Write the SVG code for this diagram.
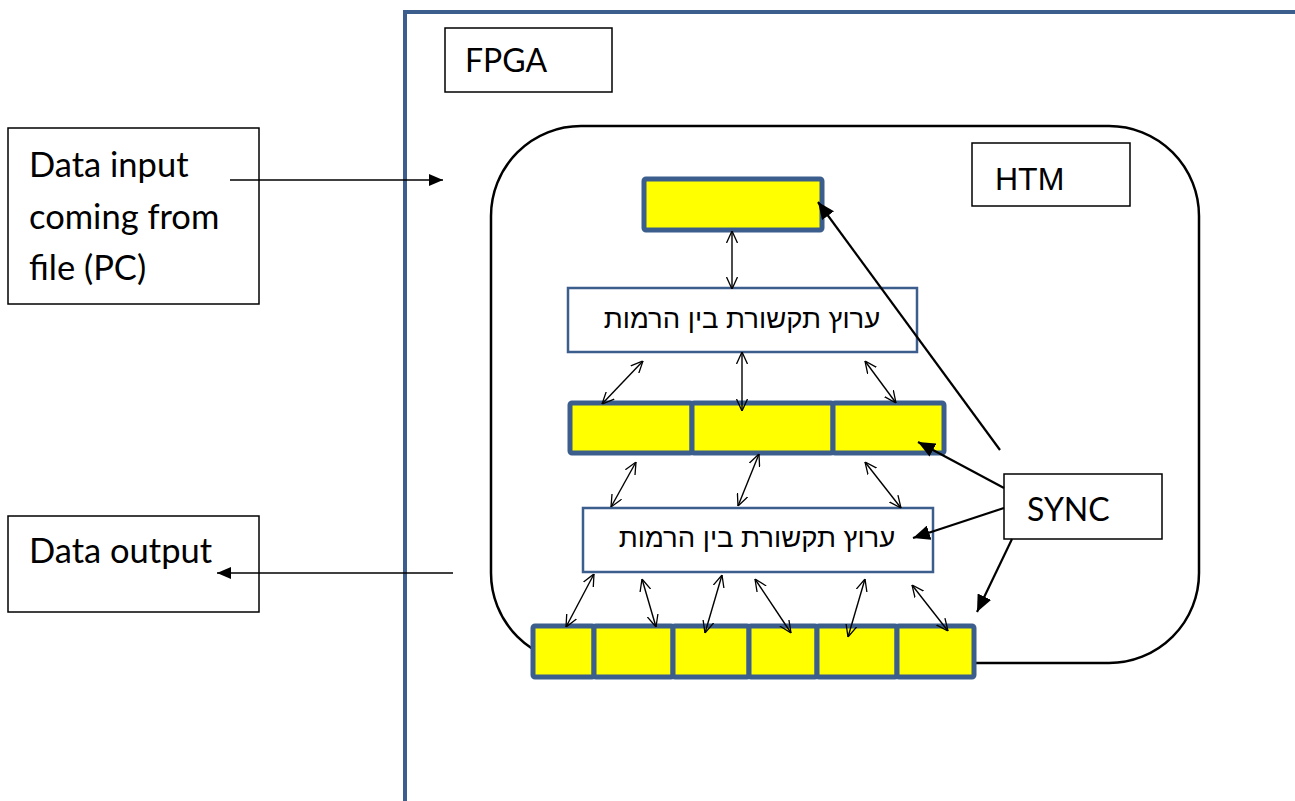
<svg xmlns="http://www.w3.org/2000/svg" width="1295" height="801" viewBox="0 0 1295 801">
<style>
.lbl{fill:none;stroke:#000;stroke-width:1.5}
.cal{font-family:Lato,"Liberation Sans",sans-serif;font-size:32px;fill:#000}
.big{font-size:34.5px}
.ari{font-family:"Liberation Sans",Arial,sans-serif;font-size:32px;fill:#000}
.heb{font-family:"Liberation Sans","DejaVu Sans",sans-serif;font-size:27.5px;fill:#000}
.yel{fill:#FFFF00;stroke:#3B5E8C;stroke-width:5}
.chan{fill:#fff;stroke:#3B5E8C;stroke-width:2.5}
.thin{fill:none;stroke:#000;stroke-width:1.4;marker-start:url(#open);marker-end:url(#open)}
.thick{fill:none;stroke:#000;stroke-width:2.2;marker-end:url(#solid)}
.io{fill:none;stroke:#000;stroke-width:1.6;marker-end:url(#solidS)}
</style>
<defs>
<marker id="open" viewBox="0 0 12 12" refX="12" refY="6" markerWidth="12" markerHeight="12" markerUnits="userSpaceOnUse" orient="auto-start-reverse">
<path d="M0,0.5 L12,6 L0,11.5" fill="none" stroke="#000" stroke-width="1.3"/>
</marker>
<marker id="solid" viewBox="0 0 16 14" refX="16" refY="7" markerWidth="17" markerHeight="15" markerUnits="userSpaceOnUse" orient="auto">
<path d="M0,0 L16,7 L0,14 Z" fill="#000"/>
</marker>
<marker id="solidS" viewBox="0 0 14 12" refX="14" refY="6" markerWidth="14" markerHeight="12" markerUnits="userSpaceOnUse" orient="auto">
<path d="M0,0 L14,6 L0,12 Z" fill="#000"/>
</marker>
</defs>

<g id="fpga-frame">
<path d="M405,801 L405,12 L1300,12" fill="none" stroke="#3B5E8C" stroke-width="4"/>
</g>

<g id="fpga-label">
<rect x="445" y="28" width="167" height="64" class="lbl"/>
<text x="465" y="72" class="cal">FPGA</text>
</g>

<g id="input">
<rect x="8" y="128" width="251" height="176" class="lbl"/>
<text x="29" y="177" class="cal big">Data input</text>
<text x="29" y="229" class="cal big">coming from</text>
<text x="29" y="280" class="cal big">file (PC)</text>
</g>

<g id="output">
<rect x="8" y="516" width="251" height="96" class="lbl"/>
<text x="29" y="563" class="cal big">Data output</text>
</g>

<g id="htm">
<rect x="491" y="126" width="708" height="537" rx="90" ry="90" fill="none" stroke="#000" stroke-width="2.5"/>
</g>

<g id="htm-label">
<rect x="972" y="143" width="158" height="63" class="lbl"/>
<text x="995" y="190" class="ari">HTM</text>
</g>

<g id="top-node">
<rect x="644" y="179" width="178" height="51" rx="2" class="yel"/>
</g>

<g id="channel-1">
<rect x="568" y="288" width="349" height="64" class="chan"/>
<text x="742" y="328" class="heb" text-anchor="middle">ערוץ תקשורת בין הרמות</text>
</g>

<g id="mid-row">
<rect x="570" y="403" width="122" height="50" rx="2" class="yel"/>
<rect x="692" y="403" width="141" height="50" rx="2" class="yel"/>
<rect x="833" y="403" width="111" height="50" rx="2" class="yel"/>
</g>

<g id="channel-2">
<rect x="583" y="508" width="350" height="64" class="chan"/>
<text x="757" y="547" class="heb" text-anchor="middle">ערוץ תקשורת בין הרמות</text>
</g>

<g id="bottom-row">
<rect x="533" y="626" width="61" height="51" rx="2" class="yel"/>
<rect x="594" y="626" width="79" height="51" rx="2" class="yel"/>
<rect x="673" y="626" width="76" height="51" rx="2" class="yel"/>
<rect x="749" y="626" width="68" height="51" rx="2" class="yel"/>
<rect x="817" y="626" width="80" height="51" rx="2" class="yel"/>
<rect x="897" y="626" width="77" height="51" rx="2" class="yel"/>
</g>

<g id="sync">
<rect x="1004" y="474" width="158" height="65" class="lbl"/>
<text x="1027" y="521" class="cal">SYNC</text>
</g>

<g id="connectors">
<line x1="230" y1="180" x2="443" y2="180" class="io"/>
<line x1="453" y1="573" x2="217" y2="573" class="io"/>

<line x1="732" y1="231" x2="732" y2="289" class="thin"/>
<line x1="643" y1="361" x2="602" y2="404" class="thin"/>
<line x1="742" y1="352" x2="742" y2="411" class="thin"/>
<line x1="865" y1="361" x2="896" y2="403" class="thin"/>

<line x1="636" y1="462" x2="611" y2="507" class="thin"/>
<line x1="759" y1="454" x2="738" y2="506" class="thin"/>
<line x1="865" y1="462" x2="901" y2="508" class="thin"/>

<line x1="594" y1="574" x2="566" y2="627" class="thin"/>
<line x1="642" y1="579" x2="656" y2="627" class="thin"/>
<line x1="722" y1="575" x2="705" y2="633" class="thin"/>
<line x1="755" y1="579" x2="791" y2="633" class="thin"/>
<line x1="865" y1="579" x2="848" y2="637" class="thin"/>
<line x1="912" y1="585" x2="948" y2="631" class="thin"/>

<line x1="1000" y1="450" x2="818" y2="202" class="thick"/>
<line x1="1004" y1="488" x2="918" y2="442" class="thick"/>
<line x1="1004" y1="508" x2="913" y2="538" class="thick"/>
<line x1="1012" y1="539" x2="977" y2="612" class="thick"/>
</g>
</svg>
